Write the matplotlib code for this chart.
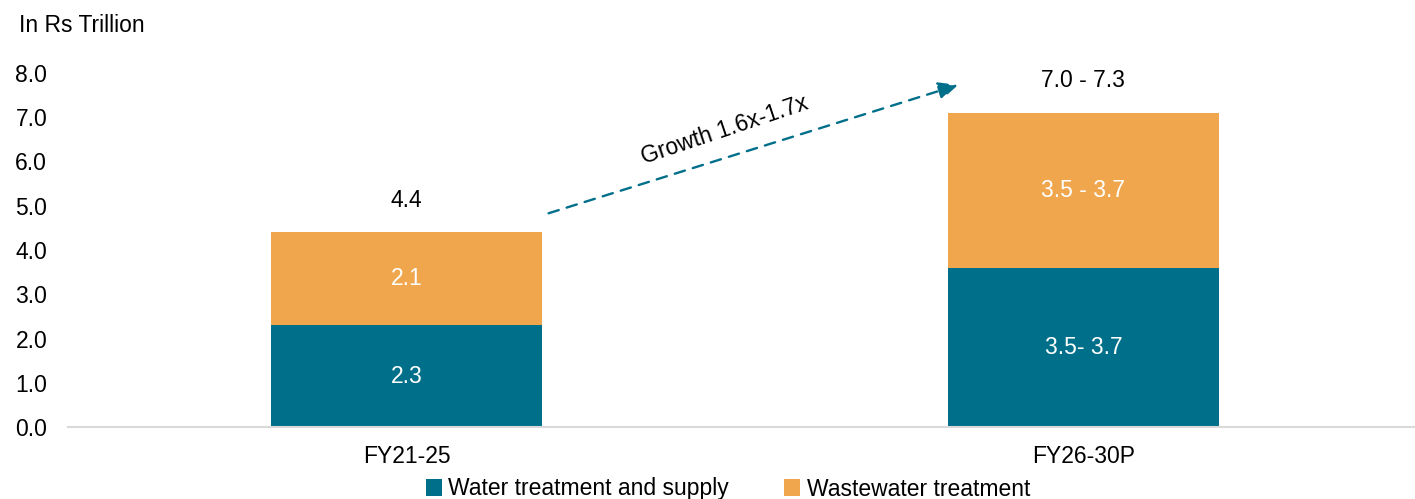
import numpy as np
import matplotlib.pyplot as plt

plt.rcParams['font.family'] = ['Liberation Sans', 'DejaVu Sans']

periods = ['FY21-25', 'FY26-30P']
water_supply = [2.3, 3.6]
wastewater = [2.1, 3.5]
water_labels = ['2.3', '3.5- 3.7']
waste_labels = ['2.1', '3.5 - 3.7']
total_labels = ['4.4', '7.0 - 7.3']
growth_text = 'Growth 1.6x-1.7x'

teal = '#006F8A'
orange = '#F0A64C'
fs = 16.5

fig = plt.figure(figsize=(14.15, 4.99), dpi=100)
ax = fig.add_axes([68 / 1415, 72 / 499, 1347 / 1415, 354 / 499])

x = np.arange(len(periods))
water = np.array(water_supply)
waste = np.array(wastewater)

b1 = ax.bar(x, water, width=0.4, color=teal, label='Water treatment and supply')
b2 = ax.bar(x, waste, width=0.4, bottom=water, color=orange, label='Wastewater treatment')

for i in range(len(x)):
    ax.text(x[i], water[i] / 2, water_labels[i], ha='center', va='center',
            color='white', fontsize=fs)
    ax.text(x[i], water[i] + waste[i] / 2, waste_labels[i], ha='center', va='center',
            color='white', fontsize=fs)
    ax.text(x[i], water[i] + waste[i] + 0.72, total_labels[i], ha='center', va='center',
            color='black', fontsize=fs)

# growth arrow between the two stacks
tot = water + waste
ax.annotate('', xy=(0.815, tot[1] + 0.63), xytext=(0.21, tot[0] + 0.43),
            arrowprops=dict(arrowstyle='-|>,head_length=1.2,head_width=0.55',
                            color=teal, lw=1.7, linestyle=(0, (4.5, 3.5)),
                            shrinkA=0, shrinkB=0))
ax.text(0.47, 6.7, growth_text, rotation=18.5, ha='center', va='center',
        fontsize=fs, rotation_mode='anchor')

ax.set_xlim(-0.5, 1.49)
ax.set_ylim(0, 8)
ax.set_yticks(np.arange(0, 8.1, 1.0))
ax.set_yticklabels([f'{v:.1f}' for v in np.arange(0, 8.1, 1.0)])
ax.set_xticks(x)
ax.set_xticklabels(periods)
ax.tick_params(axis='both', length=0, labelsize=fs)
ax.tick_params(axis='y', pad=15)
ax.tick_params(axis='x', pad=13)

for side in ['top', 'right', 'left']:
    ax.spines[side].set_visible(False)
ax.spines['bottom'].set_color('#D9D9D9')
ax.spines['bottom'].set_linewidth(1.5)

fig.text(19 / 1415, 1 - 25 / 499, 'In Rs Trillion', fontsize=fs, va='center', ha='left')

fig.legend(handles=[b1, b2], loc='center', bbox_to_anchor=(728 / 1415, 1 - 489 / 499),
           ncol=2, frameon=False, fontsize=fs, handlelength=0.7, handleheight=0.7,
           handletextpad=0.3, columnspacing=2.4)

fig.savefig('out.png', dpi=100)
